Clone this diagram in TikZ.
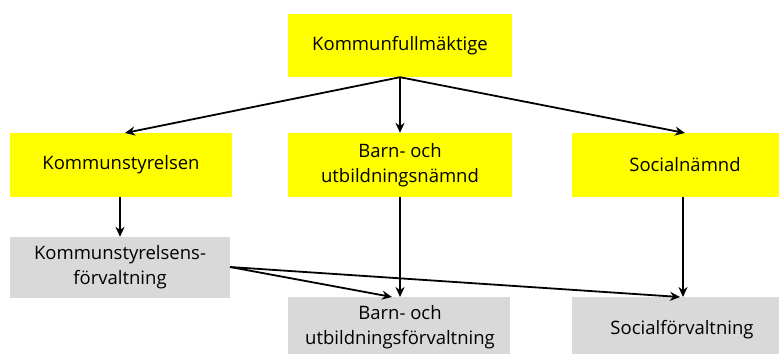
\documentclass[tikz,border=0pt]{standalone}
\usepackage{fontspec}
\setmainfont{Open Sans}
\usetikzlibrary{arrows.meta}
\definecolor{boxyellow}{RGB}{255,255,0}
\definecolor{boxgray}{RGB}{217,217,217}
\begin{document}
\begin{tikzpicture}[x=1pt,y=-1pt,
  ybox/.style={fill=boxyellow, draw=none, inner sep=0pt, font=\fontsize{18.5}{25}\selectfont, align=center},
  gbox/.style={fill=boxgray, draw=none, inner sep=0pt, font=\fontsize{18.5}{25}\selectfont, align=center},
  lbl/.style={font=\fontsize{18.5}{25}\selectfont, align=center, inner sep=0pt},
  conn/.style={line width=1.8pt, -{Stealth[length=10pt,width=9pt]}}]
\useasboundingbox (0,0) rectangle (779,354);
% yellow boxes
\node[ybox, minimum width=224pt, minimum height=63pt] (kf) at (400,45.5) {Kommunfullmäktige};
\node[ybox, minimum width=222pt, minimum height=64pt] (ks) at (121,165) {Kommunstyrelsen};
\node[ybox, minimum width=224pt, minimum height=64pt] (bun) at (400,165) {Barn- och\\utbildningsnämnd};
\node[ybox, minimum width=207pt, minimum height=64pt] (sn) at (675.5,165) {};
\node[lbl] (snt) at (685,165) {Socialnämnd};
% gray boxes
\node[gbox, minimum width=220pt, minimum height=61pt] (ksf) at (120,267.5) {Kommunstyrelsens-\\förvaltning};
\node[gbox, minimum width=222pt, minimum height=57pt] (buf) at (399,325.5) {};
\node[lbl] (buft) at (400,327) {Barn- och\\utbildningsförvaltning};
\node[gbox, minimum width=207pt, minimum height=57pt] (sf) at (675.5,325.5) {};
\node[lbl] (sft) at (682,330) {Socialförvaltning};
% connector end points
\coordinate (kstip) at (125,133);
\coordinate (sntip) at (685,133);
\coordinate (snbot) at (683,197);
\coordinate (sftip) at (683,297);
\coordinate (buftip) at (400,297);
\coordinate (bufdiag) at (392,297);
\coordinate (sfdiag) at (680,297);
\coordinate (ksfout) at (230,267);
% connectors
\draw[conn] (kf.south) -- (kstip);
\draw[conn] (kf.south) -- (bun.north);
\draw[conn] (kf.south) -- (sntip);
\draw[conn] (ks.south -| ksf.north) -- (ksf.north);
\draw[conn] (bun.south) -- (buftip);
\draw[conn] (snbot) -- (sftip);
\draw[conn] (ksfout) -- (bufdiag);
\draw[conn] (ksfout) -- (sfdiag);
\end{tikzpicture}
\end{document}
